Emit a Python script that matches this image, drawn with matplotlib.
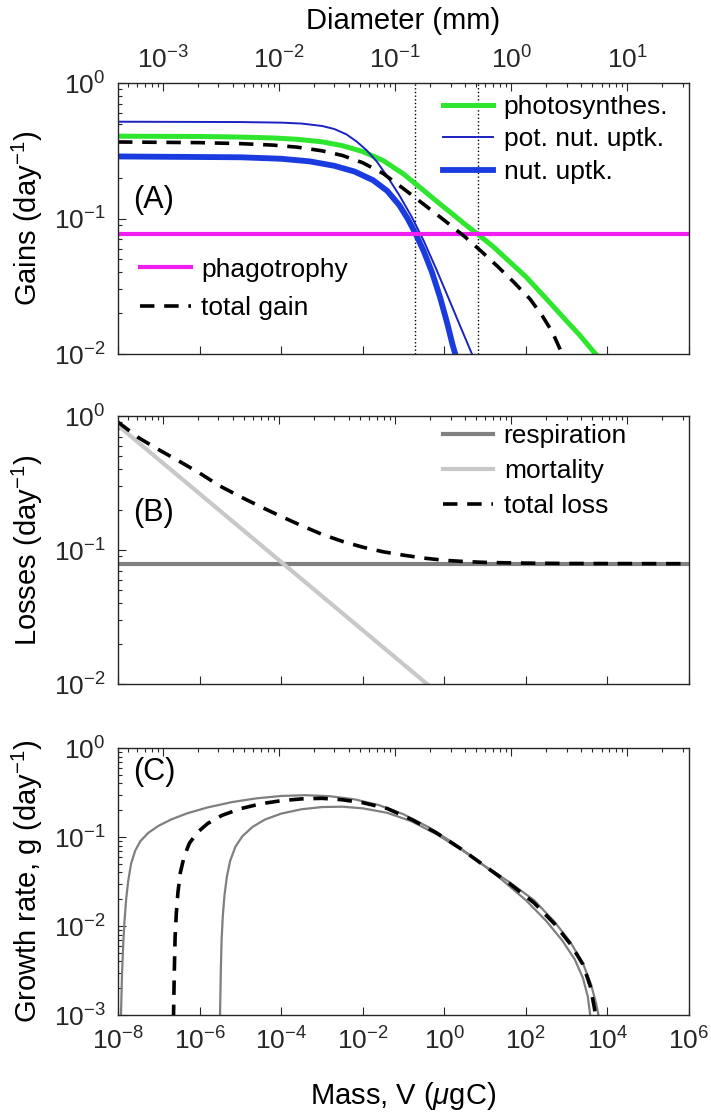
import matplotlib
matplotlib.use("Agg")
import matplotlib.pyplot as plt
import numpy as np
from matplotlib.ticker import LogLocator, NullLocator, NullFormatter, FixedLocator

plt.rcParams['font.family'] = ['Liberation Sans', 'DejaVu Sans']
plt.rcParams['mathtext.fontset'] = 'custom'
plt.rcParams['mathtext.rm'] = 'Liberation Sans'
plt.rcParams['mathtext.it'] = 'Liberation Sans:italic'
plt.rcParams['mathtext.default'] = 'regular'

# ---- panel A: gains
photo_logv = [-8, -6, -5, -4.2, -3.6, -3.0, -2.5, -2.0, -1.5, -1.0, -0.6, -0.2,
              0.2, 0.5, 0.83, 1.2, 1.6, 2.0, 2.5, 3.0, 3.3, 3.66, 4.2]
photo_gain = [0.405, 0.403, 0.399, 0.393, 0.384, 0.368, 0.345, 0.312, 0.268, 0.213,
              0.170, 0.135, 0.108, 0.091, 0.0762, 0.062, 0.048, 0.0372, 0.0256,
              0.0175, 0.0140, 0.0104, 0.0070]

pot_logv = [-8, -5, -4, -3.5, -3.0, -2.7, -2.4, -2.15, -1.9, -1.65, -1.4, -1.1,
            -0.8, -0.5, -0.2, 0.1, 0.4, 0.71, 0.9]
pot_uptk = [0.518, 0.515, 0.510, 0.502, 0.482, 0.458, 0.418, 0.370, 0.318, 0.262,
            0.205, 0.148, 0.103, 0.068, 0.0425, 0.026, 0.0158, 0.0095, 0.0068]

nut_logv = [-8, -5, -4, -3.3, -2.7, -2.2, -1.75, -1.4, -1.1, -0.9, -0.7, -0.5,
            -0.3, -0.1, 0.08, 0.2, 0.29, 0.38]
nut_uptk = [0.287, 0.283, 0.276, 0.264, 0.245, 0.222, 0.192, 0.160, 0.125, 0.100,
            0.077, 0.057, 0.040, 0.026, 0.0165, 0.0118, 0.0095, 0.0070]

gain_logv = [-8, -6, -5, -4.2, -3.6, -3.0, -2.5, -2.0, -1.5, -1.0, -0.5, 0.0,
             0.5, 0.9, 1.3, 1.7, 2.1, 2.4, 2.65, 2.86, 3.05]
total_gain = [0.367, 0.363, 0.357, 0.348, 0.336, 0.316, 0.292, 0.258, 0.215, 0.166,
              0.127, 0.097, 0.0735, 0.0575, 0.0445, 0.034, 0.0255, 0.0192,
              0.0145, 0.0105, 0.0075]

phago_rate = 0.077
cross_mass = [0.19, 6.8]

# ---- panel B: losses
resp_rate = 0.079
mort_logv = [-8, 0]
mortality = [0.85, 0.0078]

loss_logv = [-8, -7.5, -7, -6.5, -6, -5.5, -5, -4.5, -4, -3.5, -3, -2.5, -2,
             -1.5, -1, -0.5, 0, 0.5, 1, 2, 3, 6]
total_loss = [0.90, 0.69, 0.56, 0.46, 0.375, 0.30, 0.25, 0.21, 0.178, 0.152, 0.131,
              0.116, 0.105, 0.097, 0.0915, 0.087, 0.0838, 0.0820, 0.0808, 0.0798,
              0.0793, 0.079]

# ---- panel C: growth rate
g1_logv = [-7.93, -7.90, -7.87, -7.84, -7.80, -7.75, -7.68, -7.58, -7.45, -7.25,
           -7.0, -6.7, -6.3, -5.8, -5.2, -4.6, -4.0, -3.4, -2.8, -2.2, -1.6,
           -1.0, -0.4, 0.2, 0.8, 1.4, 2.0, 2.5, 2.9, 3.2, 3.4, 3.52, 3.59]
g1 = [0.0009, 0.003, 0.0065, 0.0115, 0.020, 0.032, 0.050, 0.070, 0.090, 0.112,
      0.134, 0.157, 0.185, 0.215, 0.247, 0.272, 0.289, 0.295, 0.287, 0.265, 0.228,
      0.180, 0.130, 0.087, 0.055, 0.0335, 0.0195, 0.0114, 0.0068, 0.0042, 0.0026,
      0.0016, 0.0009]

g2_logv = [-5.50, -5.48, -5.46, -5.43, -5.39, -5.33, -5.25, -5.12, -4.95, -4.70,
           -4.40, -4.0, -3.5, -3.0, -2.5, -2.0, -1.4, -0.8, -0.2, 0.4, 1.0, 1.6,
           2.2, 2.7, 3.1, 3.4, 3.6, 3.73, 3.8]
g2 = [0.0009, 0.003, 0.007, 0.013, 0.022, 0.036, 0.054, 0.078, 0.102, 0.130,
      0.157, 0.183, 0.205, 0.217, 0.219, 0.210, 0.187, 0.150, 0.108, 0.073, 0.047,
      0.031, 0.0195, 0.0112, 0.0065, 0.0038, 0.0022, 0.0013, 0.0009]

gm_logv = [-6.64, -6.62, -6.60, -6.57, -6.53, -6.47, -6.38, -6.25, -6.05, -5.8,
           -5.45, -5.0, -4.5, -4.0, -3.5, -3.0, -2.5, -2.0, -1.4, -0.8, -0.2, 0.4,
           1.0, 1.6, 2.2, 2.7, 3.1, 3.4, 3.58, 3.68, 3.72]
g_mean = [0.0009, 0.003, 0.0075, 0.014, 0.024, 0.040, 0.060, 0.085, 0.113, 0.142,
          0.175, 0.208, 0.236, 0.256, 0.268, 0.272, 0.262, 0.243, 0.209, 0.157,
          0.112, 0.074, 0.047, 0.030, 0.0182, 0.0106, 0.0062, 0.0037, 0.0021,
          0.0012, 0.0009]

mass_ticks = [1e-8, 1e-6, 1e-4, 1e-2, 1e0, 1e2, 1e4, 1e6]
diam_lim = (4.1e-4, 34.0)


def m(logv):
    return np.power(10.0, logv)


fig = plt.figure(figsize=(7.11, 11.17), dpi=100)
W = 571 / 711
axA = fig.add_axes([118 / 711, 1 - 354 / 1117, W, 271 / 1117])
axB = fig.add_axes([118 / 711, 1 - 684 / 1117, W, 268 / 1117])
axC = fig.add_axes([118 / 711, 1 - 1015 / 1117, W, 267 / 1117])

frame = '#262626'
tick_fs = 19
lab_fs = 21
leg_fs = 19
pan_fs = 22
dash = (0, (4.0, 2.7))


def style(ax, ylim, show_diam, show_mass):
    ax.set_xscale('log')
    ax.set_yscale('log')
    ax.set_xlim(1e-8, 1e6)
    ax.set_ylim(*ylim)
    ax.xaxis.set_major_locator(FixedLocator(mass_ticks))
    ax.xaxis.set_minor_locator(NullLocator())
    ax.yaxis.set_major_locator(LogLocator(base=10))
    ax.yaxis.set_minor_locator(LogLocator(base=10, subs=range(2, 10)))
    ax.yaxis.set_minor_formatter(NullFormatter())
    ax.tick_params(which='both', direction='in', colors=frame, labelsize=tick_fs,
                   top=False, right=False)
    ax.tick_params(which='major', length=6, width=0.8)
    ax.tick_params(which='minor', length=3, width=0.8)
    ax.tick_params(axis='y', which='major', pad=9)
    ax.tick_params(axis='x', which='major', pad=9)
    if not show_mass:
        ax.tick_params(axis='x', labelbottom=False)
    for s in ax.spines.values():
        s.set_color(frame)
        s.set_linewidth(1.0)
    top = ax.twiny()
    top.set_xscale('log')
    top.set_xlim(*diam_lim)
    top.xaxis.set_major_locator(LogLocator(base=10))
    top.xaxis.set_minor_locator(LogLocator(base=10, subs=range(2, 10)))
    top.xaxis.set_minor_formatter(NullFormatter())
    top.tick_params(which='both', direction='in', colors=frame, labelsize=tick_fs, pad=7)
    top.tick_params(which='major', length=6, width=0.8)
    top.tick_params(which='minor', length=3, width=0.8)
    if not show_diam:
        top.tick_params(axis='x', labeltop=False)
    else:
        top.set_xlabel('Diameter (mm)', fontsize=lab_fs, labelpad=12)
    for s in top.spines.values():
        s.set_visible(False)
    return top


legkw = dict(frameon=False, fontsize=leg_fs, handlelength=1.9, handletextpad=0.4,
             borderpad=0.2, borderaxespad=0.0)

# panel A
style(axA, (1e-2, 1e0), True, False)
for v in cross_mass:
    axA.axvline(v, color='k', ls=':', lw=1.0)
lp, = axA.plot(m(photo_logv), photo_gain, color='#2ee62e', lw=3.6)
lpot, = axA.plot(m(pot_logv), pot_uptk, color='#1a22c0', lw=1.4)
lnut, = axA.plot(m(nut_logv), nut_uptk, color='#1a3be0', lw=4.2)
lph = axA.axhline(phago_rate, color='#f01ef0', lw=3.0)
ltg, = axA.plot(m(gain_logv), total_gain, color='k', lw=2.6, ls=dash)
leg1 = axA.legend([lp, lpot, lnut], ['photosynthes.', 'pot. nut. uptk.', 'nut. uptk.'],
                  loc='upper left', bbox_to_anchor=(0.56, 0.975), labelspacing=0.32, **legkw)
axA.add_artist(leg1)
axA.legend([lph, ltg], ['phagotrophy', 'total gain'],
           loc='upper left', bbox_to_anchor=(0.03, 0.375), labelspacing=0.55, **legkw)
axA.text(0.026, 0.568, '(A)', transform=axA.transAxes, fontsize=pan_fs, va='center')
axA.set_ylabel('Gains (day$^{-1}$)', fontsize=lab_fs)
axA.yaxis.set_label_coords(-0.127, 0.5)

# panel B
style(axB, (1e-2, 1e0), False, False)
lr = axB.axhline(resp_rate, color='#808080', lw=3.0)
lm, = axB.plot(m(mort_logv), mortality, color='#c8c8c8', lw=3.0)
ltl, = axB.plot(m(loss_logv), total_loss, color='k', lw=2.6, ls=dash)
axB.legend([lr, lm, ltl], ['respiration', 'mortality', 'total loss'],
           loc='upper left', bbox_to_anchor=(0.56, 0.99), labelspacing=0.42, **legkw)
axB.text(0.026, 0.638, '(B)', transform=axB.transAxes, fontsize=pan_fs, va='center')
axB.set_ylabel('Losses (day$^{-1}$)', fontsize=lab_fs)
axB.yaxis.set_label_coords(-0.127, 0.5)

# panel C
style(axC, (1e-3, 1e0), False, True)
axC.plot(m(g1_logv), g1, color='#7f7f7f', lw=1.6)
axC.plot(m(g2_logv), g2, color='#7f7f7f', lw=1.6)
axC.plot(m(gm_logv), g_mean, color='k', lw=2.6, ls=dash)
axC.text(0.026, 0.91, '(C)', transform=axC.transAxes, fontsize=pan_fs, va='center')
axC.set_ylabel('Growth rate, g (day$^{-1}$)', fontsize=lab_fs)
axC.yaxis.set_label_coords(-0.127, 0.5)
axC.set_xlabel('Mass, V ($\\mathit{\\mu}$gC)', fontsize=lab_fs)
axC.xaxis.set_label_coords(0.5, -0.245)

fig.savefig('out.png', dpi=100)
